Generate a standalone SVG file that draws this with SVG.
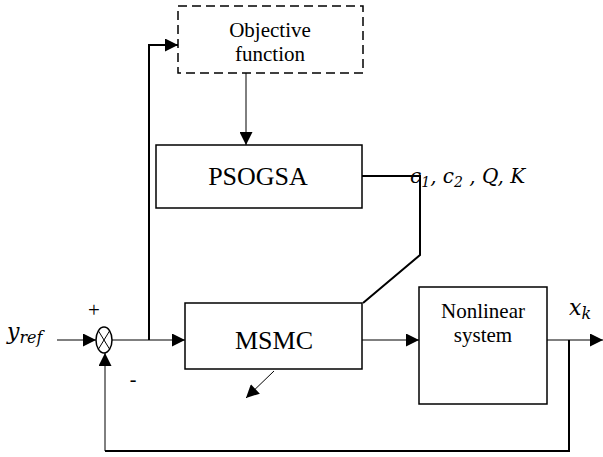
<svg xmlns="http://www.w3.org/2000/svg" width="603" height="457" viewBox="0 0 603 457">
<defs>
<marker id="ah" viewBox="0 0 10 10" refX="10" refY="5" markerWidth="14" markerHeight="13" markerUnits="userSpaceOnUse" orient="auto">
<path d="M0,0 L10,5 L0,10 z" fill="#000"/>
</marker>
</defs>
<style>
.box{fill:#fff;stroke:#000;stroke-width:1.5}
.dash{fill:#fff;stroke:#000;stroke-width:1.5;stroke-dasharray:9,5}
.t{font-family:'Liberation Serif','Times New Roman',serif;fill:#000;text-anchor:middle}
.m{font-family:'DejaVu Serif',serif;font-style:italic;fill:#000}
.thin{fill:none;stroke:#000;stroke-width:1}
.thick{fill:none;stroke:#000;stroke-width:2}
</style>
<g id="connectors">
<path class="thick" d="M149,340 L149,45 L178,45" marker-end="url(#ah)"/>
<path class="thin" d="M246,73 L246,145" marker-end="url(#ah)"/>
<path class="thick" d="M362,176 L420,176 L420,255 L363,303"/>
<path class="thin" d="M57,340 L96,340" marker-end="url(#ah)"/>
<path class="thin" d="M112,340 L185,340" marker-end="url(#ah)"/>
<path class="thin" d="M362,340 L419,340" marker-end="url(#ah)"/>
<path class="thin" d="M547,340 L603,340" marker-end="url(#ah)"/>
<path class="thick" d="M569,340 L569,451 L105,451"/>
<path class="thin" d="M105,451 L105,353" marker-end="url(#ah)"/>
<path class="thin" d="M274,371 L246,398" marker-end="url(#ah)"/>
</g>
<g id="objective">
<rect class="dash" x="178" y="6" width="185" height="67"/>
<text class="t" x="270" y="37" font-size="21">Objective</text>
<text class="t" x="270" y="61" font-size="21">function</text>
</g>
<g id="psogsa">
<rect class="box" x="156" y="145" width="206" height="63"/>
<text class="t" x="258" y="185" font-size="26">PSOGSA</text>
</g>
<g id="msmc">
<rect class="box" x="185" y="303" width="177" height="66"/>
<text class="t" x="274" y="349" font-size="26">MSMC</text>
</g>
<g id="nonlinear">
<rect class="box" x="419" y="287" width="128" height="117"/>
<text class="t" x="483" y="318" font-size="21">Nonlinear</text>
<text class="t" x="483" y="342" font-size="21">system</text>
</g>
<g id="sum">
<ellipse cx="104" cy="340" rx="8" ry="13" fill="#fff" stroke="#000" stroke-width="1.5"/>
<path class="thin" d="M98.5,331 L109.5,349 M109.5,331 L98.5,349"/>
<text class="t" x="94" y="317" font-size="21">+</text>
<text class="t" x="133" y="386" font-size="20">-</text>
</g>
<g id="labels">
<text class="m" x="7" y="339" font-size="22">y<tspan font-size="16" dy="4">ref</tspan></text>
<text class="m" x="410" y="183" font-size="20">c<tspan font-size="14" dy="4">1</tspan><tspan dy="-4">, c</tspan><tspan font-size="14" dy="4">2</tspan><tspan dy="-4"> , Q, K</tspan></text>
<text class="m" x="569" y="315" font-size="22">x<tspan font-size="16" dy="4">k</tspan></text>
</g>
</svg>
